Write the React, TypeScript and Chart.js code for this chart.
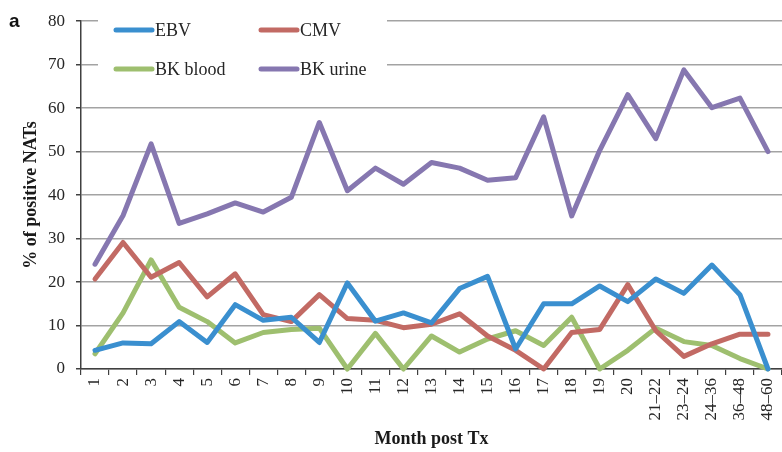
import React, { useEffect, useRef } from "react";
import { Chart, registerables } from "chart.js";

Chart.register(...registerables);

const categories = ["1","2","3","4","5","6","7","8","9","10","11","12","13","14","15","16","17","18","19","20","21–22","23–24","24–36","36–48","48–60"];
const ebv = [4.3,6.0,5.8,10.9,6.1,14.8,11.2,11.9,6.1,19.8,11.0,12.9,10.6,18.5,21.3,4.6,15.0,15.0,19.1,15.5,20.7,17.4,23.9,17.1,0];
const cmv = [20.7,29.1,21.1,24.5,16.6,21.9,12.5,10.9,17.1,11.6,11.2,9.5,10.3,12.7,7.6,4.3,0,8.4,9.1,19.4,8.8,2.9,5.8,8.0,8.0];
const bkBlood = [3.5,12.9,25.1,14.2,10.9,6.0,8.4,9.1,9.4,0,8.2,0,7.6,3.9,6.9,8.8,5.4,11.9,0,4.3,9.4,6.3,5.4,2.4,0];
const bkUrine = [24.1,35.3,51.8,33.5,35.7,38.2,36.1,39.5,56.7,41.0,46.2,42.5,47.5,46.2,43.4,44.0,58.0,35.2,50.3,63.1,53.0,68.8,60.1,62.3,50.0];
const seriesNames = ["EBV", "CMV", "BK blood", "BK urine"];
const seriesColors = ["#3A8FCF", "#C26A64", "#9EBF6F", "#8677B0"];
const yTicks = [0, 10, 20, 30, 40, 50, 60, 70, 80];

const SERIF = "'Liberation Serif', 'Times New Roman', serif";

const legendPlugin = {
  id: "insideLegend",
  afterDatasetsDraw(chart: any) {
    const ctx = chart.ctx;
    ctx.save();
    ctx.fillStyle = "#ffffff";
    ctx.fillRect(98, 6, 289, 76);
    const pos = [
      [116, 30],
      [261, 30],
      [116, 69],
      [261, 69],
    ];
    chart.data.datasets.forEach((ds: any, i: number) => {
      const [x, y] = pos[i];
      ctx.beginPath();
      ctx.strokeStyle = ds.borderColor;
      ctx.lineWidth = 5;
      ctx.lineCap = "round";
      ctx.moveTo(x, y);
      ctx.lineTo(x + 36, y);
      ctx.stroke();
      ctx.fillStyle = "#262626";
      ctx.font = `18px ${SERIF}`;
      ctx.textBaseline = "middle";
      ctx.textAlign = "left";
      ctx.fillText(ds.label, x + 39, y + 1);
    });
    ctx.fillStyle = "#111";
    ctx.font = "bold 19px 'Liberation Sans', Arial, sans-serif";
    ctx.textBaseline = "middle";
    ctx.fillText("a", 9, 22);
    ctx.restore();
  },
};

export default function App() {
  const ref = useRef<HTMLCanvasElement>(null);
  useEffect(() => {
    if (!ref.current) return;
    const data = [ebv, cmv, bkBlood, bkUrine];
    const chart = new Chart(ref.current, {
      type: "line",
      data: {
        labels: categories,
        datasets: data.map((d, i) => ({
          label: seriesNames[i],
          data: d,
          borderColor: seriesColors[i],
          backgroundColor: seriesColors[i],
          borderWidth: 5,
          pointRadius: 0,
          borderJoinStyle: "round" as const,
          borderCapStyle: "round" as const,
          tension: 0,
          clip: false as any,
        })),
      },
      options: {
        responsive: false,
        animation: false,
        devicePixelRatio: 1,
        layout: { padding: { top: 13, left: 0, right: 0, bottom: 0 } },
        plugins: { legend: { display: false }, tooltip: { enabled: false } },
        scales: {
          x: {
            offset: true,
            grid: {
              offset: true,
              drawOnChartArea: false,
              drawTicks: true,
              tickLength: 6,
              tickColor: "#404040",
              lineWidth: 1.2,
            },
            border: { color: "#404040", width: 1.5 },
            ticks: {
              autoSkip: false,
              minRotation: 90,
              maxRotation: 90,
              padding: 3,
              color: "#262626",
              font: { family: SERIF, size: 17 },
            },
            title: {
              display: true,
              text: "Month post Tx",
              color: "#1a1a1a",
              font: { family: SERIF, size: 18, weight: "bold" },
              padding: { top: 0, bottom: 2 },
            },
            afterFit: (s: any) => {
              s.height = 83;
              s.paddingLeft = 0;
              s.paddingRight = 0;
            },
          },
          y: {
            min: 0,
            max: 80,
            afterBuildTicks: (s: any) => {
              s.ticks = yTicks.map((v) => ({ value: v }));
            },
            grid: {
              color: "#A3A3A3",
              lineWidth: 1.5,
              drawTicks: true,
              tickLength: 5,
              tickColor: "#404040",
            },
            border: { color: "#404040", width: 1.5 },
            ticks: {
              padding: 11,
              color: "#262626",
              font: { family: SERIF, size: 17 },
            },
            title: {
              display: true,
              text: "% of positive NATs",
              color: "#1a1a1a",
              font: { family: SERIF, size: 18, weight: "bold" },
              padding: { top: 21, bottom: 0 },
            },
            afterFit: (s: any) => {
              s.width = 81;
            },
          },
        },
      },
      plugins: [legendPlugin],
    });
    return () => chart.destroy();
  }, []);
  return (
    <div style={{ position: "fixed", left: 0, top: 0, width: 782, height: 452, background: "#fff" }}>
      <canvas ref={ref} width={782} height={452} style={{ width: 782, height: 452, display: "block" }} />
    </div>
  );
}
